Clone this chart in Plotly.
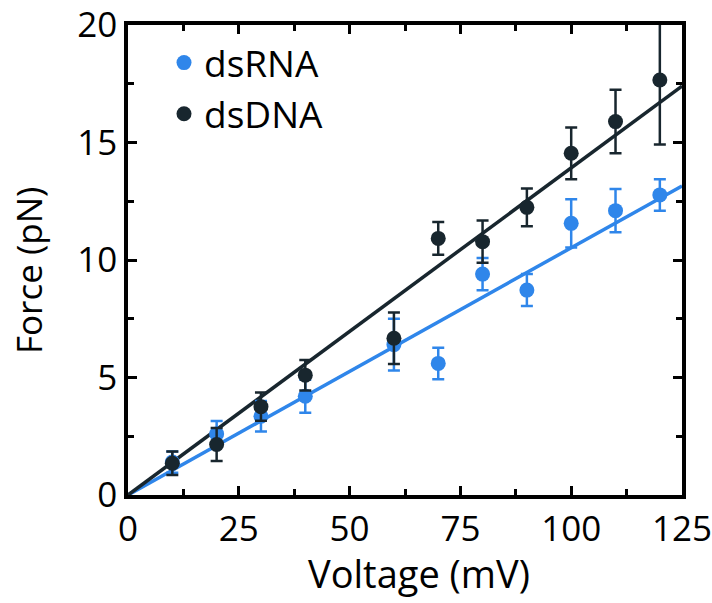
import plotly.graph_objects as go

voltage = [10, 20, 30, 40, 60, 70, 80, 90, 100, 110, 120]
rna_force = [1.4, 2.6, 3.35, 4.2, 6.4, 5.6, 9.4, 8.72, 11.56, 12.1, 12.77]
rna_err = [0.45, 0.55, 0.65, 0.7, 1.1, 0.67, 0.69, 0.68, 1.03, 0.92, 0.67]
dna_force = [1.35, 2.15, 3.76, 5.1, 6.67, 10.92, 10.78, 12.24, 14.54, 15.89, 17.66]
dna_err = [0.5, 0.7, 0.6, 0.65, 1.1, 0.7, 0.9, 0.8, 1.1, 1.35, 2.75]
rna_slope = 0.1052
dna_slope = 0.1392
fit_x = [0, 125]

blue = "#2f86ea"
dark = "#18262e"
font = "Open Sans"

fig = go.Figure()
fig.add_trace(go.Scatter(x=fit_x, y=[rna_slope * v for v in fit_x], mode="lines",
                         line=dict(color=blue, width=3.5), showlegend=False))
fig.add_trace(go.Scatter(x=fit_x, y=[dna_slope * v for v in fit_x], mode="lines",
                         line=dict(color=dark, width=3.5), showlegend=False))
fig.add_trace(go.Scatter(x=voltage, y=rna_force, mode="markers", name="dsRNA",
                         marker=dict(color=blue, size=15),
                         error_y=dict(type="data", array=rna_err, color=blue, thickness=2.5, width=6)))
fig.add_trace(go.Scatter(x=voltage, y=dna_force, mode="markers", name="dsDNA",
                         marker=dict(color=dark, size=15),
                         error_y=dict(type="data", array=dna_err, color=dark, thickness=2.5, width=6)))

axis_common = dict(showline=True, linecolor="black", linewidth=3.5, mirror="allticks",
                   ticks="inside", ticklen=9, tickwidth=3, tickcolor="black",
                   showgrid=False, zeroline=False, automargin=False,
                   ticklabeloverflow="allow",
                   tickfont=dict(family=font, size=35, color="black"),
                   minor=dict(ticks="inside", ticklen=6, tickwidth=3, tickcolor="black"))

fig.update_xaxes(range=[0, 125], tickvals=[0, 25, 50, 75, 100, 125], **axis_common)
fig.update_yaxes(range=[0, 20], tickvals=[0, 5, 10, 15, 20], **axis_common)
fig.update_xaxes(minor_dtick=12.5, minor_tick0=0)
fig.update_yaxes(minor_dtick=2.5, minor_tick0=0)

fig.update_layout(
    width=712, height=603,
    margin=dict(l=128, r=30, t=25, b=108, autoexpand=False),
    plot_bgcolor="white", paper_bgcolor="white",
    font=dict(family=font, color="black"),
    legend=dict(x=0.065, y=0.985, xanchor="left", yanchor="top",
                font=dict(family=font, size=37, color="black"),
                bgcolor="rgba(0,0,0,0)", itemwidth=30, tracegroupgap=0),
    annotations=[
        dict(text="Voltage (mV)", xref="paper", yref="paper", x=0.5, y=0, xshift=14,
             yshift=-106, xanchor="center", yanchor="bottom", showarrow=False,
             font=dict(family=font, size=38, color="black")),
        dict(text="Force (pN)", xref="paper", yref="paper", x=0, y=0.5, xshift=-100,
             yshift=-11, textangle=-90, xanchor="center", yanchor="middle", showarrow=False,
             font=dict(family=font, size=35, color="black")),
    ],
)

fig.write_html("out.html")
